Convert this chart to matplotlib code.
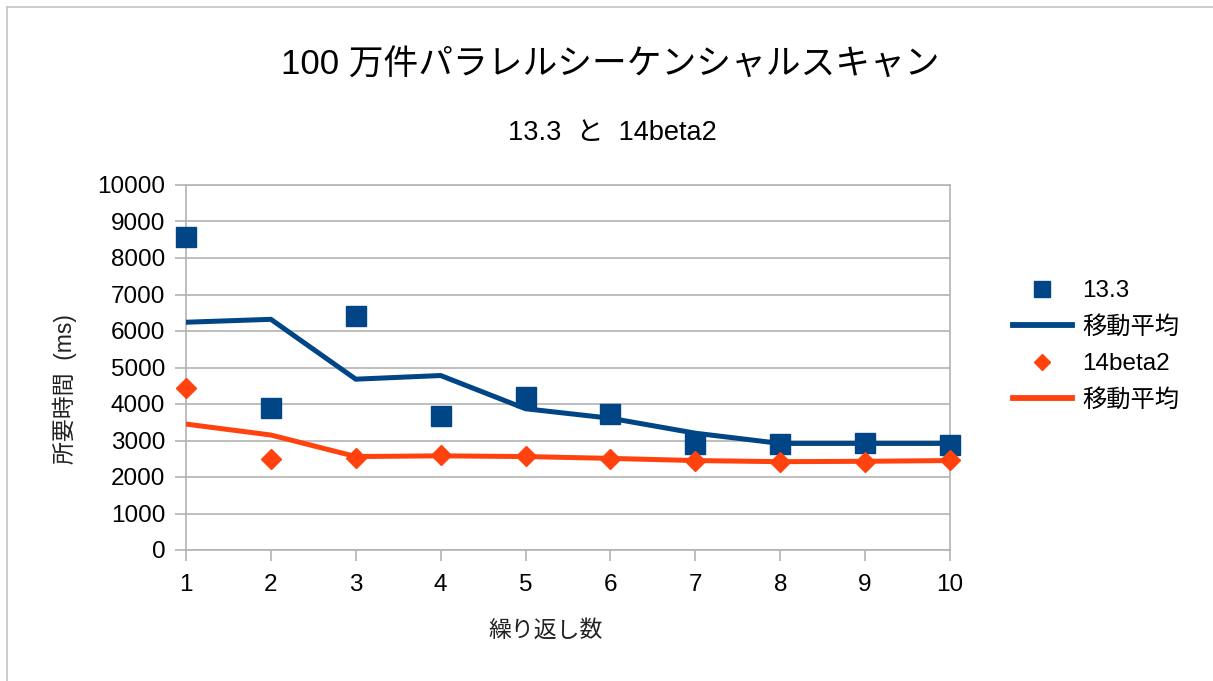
import matplotlib
matplotlib.use('agg')
import matplotlib.pyplot as plt
from matplotlib.lines import Line2D

plt.rcParams['font.family'] = ['Liberation Sans', 'Noto Sans CJK JP', 'DejaVu Sans']

# data
runs = [1, 2, 3, 4, 5, 6, 7, 8, 9, 10]
v133 = [8580, 3900, 6420, 3660, 4200, 3720, 2900, 2900, 2940, 2870]
v133_avg = [6240, 6320, 4680, 4780, 3870, 3610, 3200, 2920, 2920, 2920]
v14b2 = [4450, 2480, 2530, 2610, 2580, 2480, 2450, 2400, 2420, 2470]
v14b2_avg = [3450, 3150, 2560, 2580, 2560, 2510, 2450, 2420, 2430, 2450]
yticks = list(range(0, 10001, 1000))

BLUE = '#004586'
ORANGE = '#ff420e'
GRID = '#b3b3b3'

W, H = 1213, 681
fig = plt.figure(figsize=(W / 100, H / 100), dpi=100)
ax = fig.add_axes([186 / W, 1 - 550 / H, (950 - 186) / W, (550 - 185) / H])

ax.plot(runs, v133, linestyle='none', marker='s', ms=14, color=BLUE, clip_on=False, zorder=4)
ax.plot(runs, v133_avg, color=BLUE, lw=3.6, zorder=3, solid_joinstyle='miter')
ax.plot(runs, v14b2, linestyle='none', marker='D', ms=10, color=ORANGE, clip_on=False, zorder=4)
ax.plot(runs, v14b2_avg, color=ORANGE, lw=3.6, zorder=3, solid_joinstyle='miter')

ax.set_xlim(1, 10)
ax.set_ylim(0, 10000)
ax.set_xticks(runs)
ax.set_yticks(yticks)
ax.yaxis.grid(True, color=GRID, lw=1.2)
ax.set_axisbelow(True)
for s in ax.spines.values():
    s.set_color(GRID)
    s.set_linewidth(1.2)
ax.tick_params(axis='both', direction='out', length=8, width=1.2, color=GRID,
               labelsize=17.5, labelcolor='black')
ax.tick_params(axis='y', pad=7)
ax.tick_params(axis='x', pad=9)

fig.text(0.503, 1 - 65 / H, '100 万件パラレルシーケンシャルスキャン', ha='center', va='center', fontsize=25)
fig.text(0.505, 1 - 133 / H, '13.3  と  14beta2', ha='center', va='center', fontsize=19.5)
fig.text(546 / W, 1 - 630 / H, '繰り返し数', ha='center', va='center', fontsize=16.5, color='#222222')
fig.text(65 / W, 1 - 389 / H, '所要時間  (ms)', ha='center', va='center', rotation=90, fontsize=16.5,
         color='#222222')

handles = [
    Line2D([], [], linestyle='none', marker='s', ms=11.5, color=BLUE),
    Line2D([], [], color=BLUE, lw=4.2),
    Line2D([], [], linestyle='none', marker='D', ms=8.5, color=ORANGE),
    Line2D([], [], color=ORANGE, lw=4.2),
]
labels = ['13.3', '移動平均', '14beta2', '移動平均']
fig.legend(handles, labels, loc='center left', bbox_to_anchor=(1003 / W, 1 - 346 / H),
           frameon=False, fontsize=17.5, handlelength=2.45, handletextpad=0.4,
           labelspacing=0.58, borderaxespad=0)

# outer chart border
fig.add_artist(Line2D([7 / W, 1], [1 - 6.5 / H, 1 - 6.5 / H], color='#c8c8c8', lw=1.3))
fig.add_artist(Line2D([7 / W, 7 / W], [0, 1 - 6.5 / H], color='#c8c8c8', lw=1.3))

fig.savefig('out.png', dpi=100, facecolor='white')
